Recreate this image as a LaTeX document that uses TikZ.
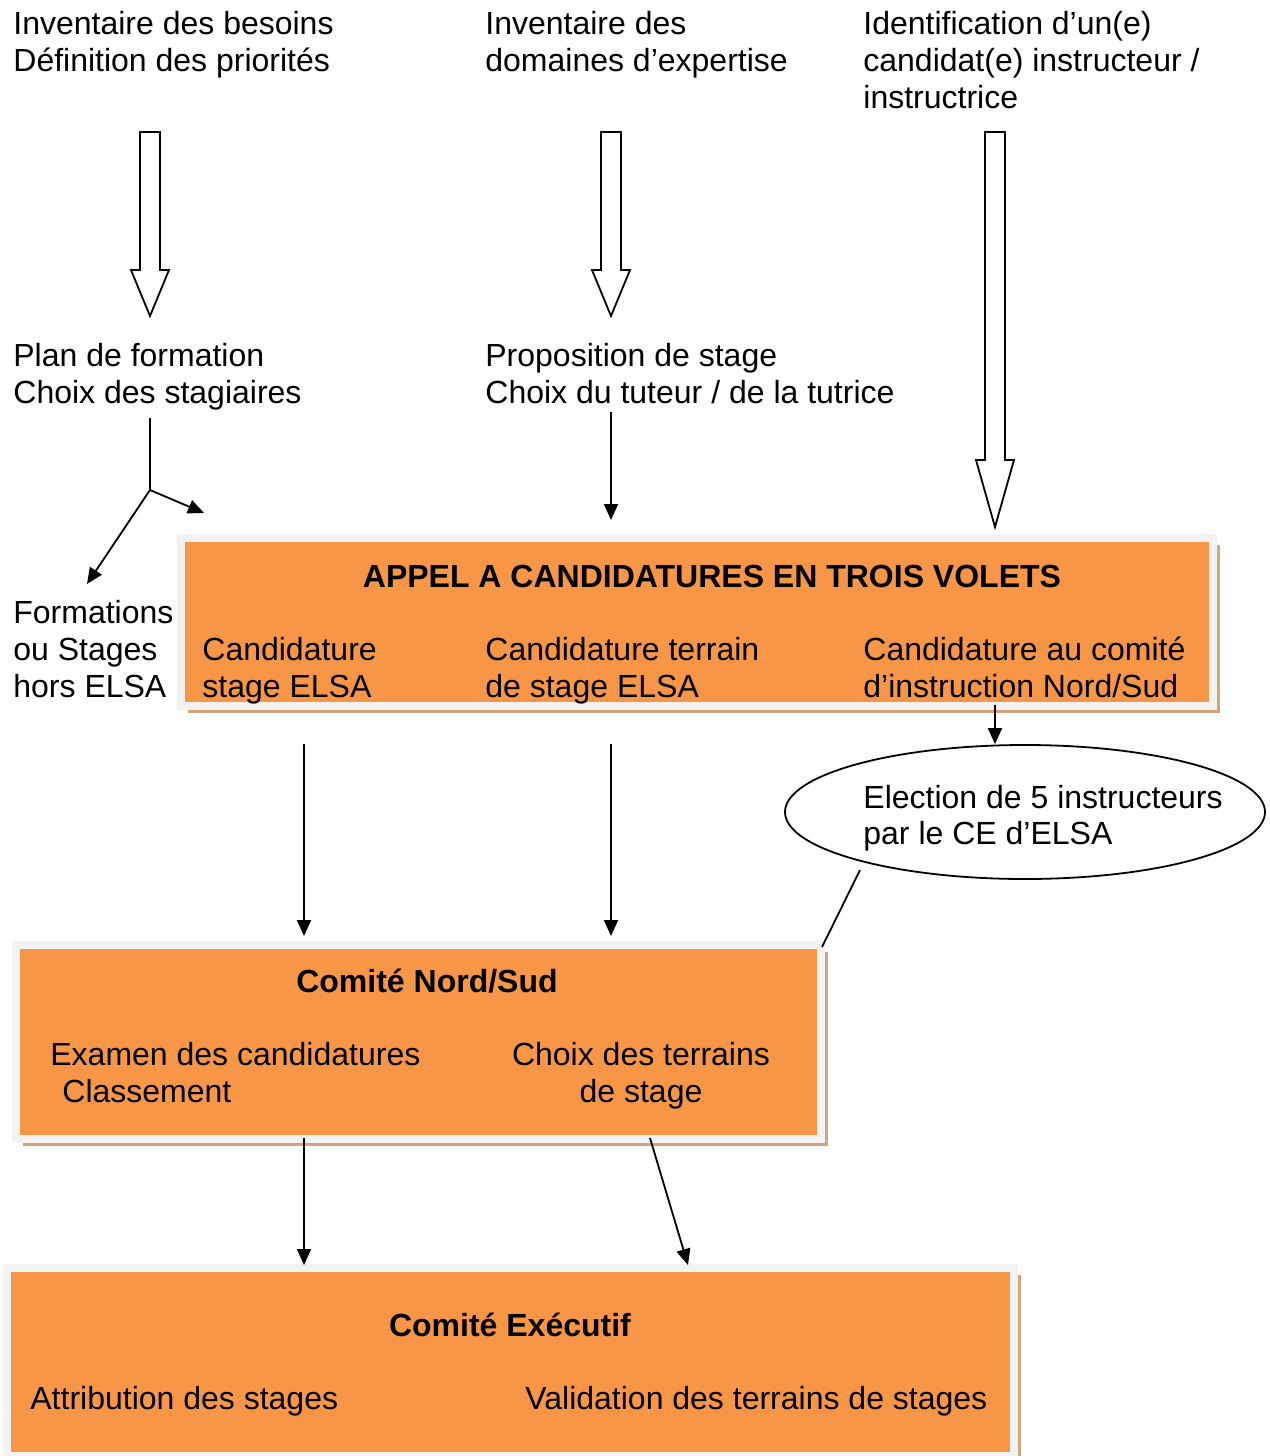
\documentclass[tikz,border=0pt]{standalone}
\usepackage{fontspec}
\setmainfont{Liberation Sans}
\usetikzlibrary{arrows.meta,shadows,shapes.geometric}
\definecolor{boxorange}{HTML}{F79646}
\definecolor{boxrim}{HTML}{F2F2F2}
\definecolor{boxshade}{RGB}{212,165,125}

\tikzset{
  txt/.style={inner sep=0pt, anchor=base west, align=left, font=\fontsize{16}{18.5}\selectfont},
  ttl/.style={inner sep=0pt, anchor=base, font=\bfseries\fontsize{16}{18.5}\selectfont},
  panel/.style={draw=boxrim, line width=4pt, fill=boxorange, inner sep=0pt,
    drop shadow={shadow xshift=3.5pt, shadow yshift=-3.5pt, fill=boxshade, opacity=1}},
  link/.style={line width=0.9pt, -{Triangle[length=8pt,width=7pt]}},
  hollow/.style={line width=0.9pt, fill=white},
}

% hollow down arrow: x, top, start of head, tip
\newcommand{\hollowdown}[4]{%
  \draw[hollow] (#1-10,#2) -- (#1+10,#2) -- (#1+10,#3) -- (#1+19,#3) -- (#1,#4)
    -- (#1-19,#3) -- (#1-10,#3) -- cycle;}

\begin{document}
\begin{tikzpicture}[x=0.5pt, y=-0.5pt]
  \useasboundingbox (0,0) rectangle (1269,1456);

  % boxes
  \node[panel, minimum width=516pt, minimum height=84pt] (appel) at (697,622) {};
  \node[panel, minimum width=402.5pt, minimum height=97pt] (nordsud) at (418.5,1042) {};
  \node[panel, minimum width=503.5pt, minimum height=94pt] (executif) at (510.5,1362) {};
  \node[draw, ellipse, line width=0.9pt, minimum width=240pt, minimum height=67pt, inner sep=0pt] (election) at (1025,812) {};

  % top row (base = last line)
  \node[txt] (besoins) at (13,71) {Inventaire des besoins\\Définition des priorités};
  \node[txt] (domaines) at (485,71) {Inventaire des\\domaines d’expertise};
  \node[txt] (candidat) at (863,108) {Identification d’un(e)\\candidat(e) instructeur /\\instructrice};

  \hollowdown{150}{132}{270}{316}
  \hollowdown{611}{132}{270}{316}
  \hollowdown{995}{132}{460}{527}

  % second row
  \node[txt] (plan) at (13,403) {Plan de formation\\Choix des stagiaires};
  \node[txt] (proposition) at (485,403) {Proposition de stage\\Choix du tuteur / de la tutrice};
  \node[txt] (hors) at (13,697) {Formations\\ou Stages\\hors ELSA};

  % appel a candidatures
  \node[ttl] (appel-titre) at (712,587) {APPEL A CANDIDATURES EN TROIS VOLETS};
  \node[txt] (cand-stage) at (202,697) {Candidature\\stage ELSA};
  \node[txt] (cand-terrain) at (485,697) {Candidature terrain\\de stage ELSA};
  \node[txt] (cand-comite) at (863,697) {Candidature au comité\\d’instruction Nord/Sud};

  \node[txt, font=\fontsize{16}{18}\selectfont] (election-txt) at (863,844) {Election de 5 instructeurs\\par le CE d’ELSA};

  % comite nord/sud
  \node[ttl] (nordsud-titre) at (427,992) {Comité Nord/Sud};
  \node[txt] (examen) at (50,1102) {Examen des candidatures\\\hspace*{6pt}Classement};
  \node[txt, align=center, anchor=base] (choix) at (641,1102) {Choix des terrains\\de stage};

  % comite executif
  \node[ttl] (executif-titre) at (510,1336) {Comité Exécutif};
  \node[txt] (attribution) at (30,1409) {Attribution des stages};
  \node[txt] (validation) at (525,1409) {Validation des terrains de stages};

  % connectors
  \coordinate (plan-out) at (150,418);
  \coordinate (fork) at (150,490);
  \coordinate (hors-in) at (87,584);
  \coordinate (appel-in) at (204,513);
  \draw[line width=0.9pt] (plan-out) -- (fork);
  \draw[link] (fork) -- (hors-in);
  \draw[link] (fork) -- (appel-in);

  \coordinate (prop-out) at (611,412);
  \coordinate (terrain-in) at (611,520);
  \draw[link] (prop-out) -- (terrain-in);

  \coordinate (comite-out) at (995,705);
  \draw[link] (comite-out) -- (election.north -| comite-out);

  \coordinate (stage-out) at (304,744);
  \coordinate (stage-in) at (304,936);
  \coordinate (terrain-out) at (611,744);
  \coordinate (terrain-nd) at (611,936);
  \draw[link] (stage-out) -- (stage-in);
  \draw[link] (terrain-out) -- (terrain-nd);

  \coordinate (election-out) at (860,870);
  \coordinate (nordsud-in) at (822,947);
  \draw[line width=0.9pt] (election-out) -- (nordsud-in);

  \coordinate (examen-out) at (304,1138);
  \coordinate (attribution-in) at (304,1265);
  \coordinate (choix-out) at (650,1138);
  \coordinate (validation-in) at (688,1265);
  \draw[link] (examen-out) -- (attribution-in);
  \draw[link] (choix-out) -- (validation-in);
\end{tikzpicture}
\end{document}
